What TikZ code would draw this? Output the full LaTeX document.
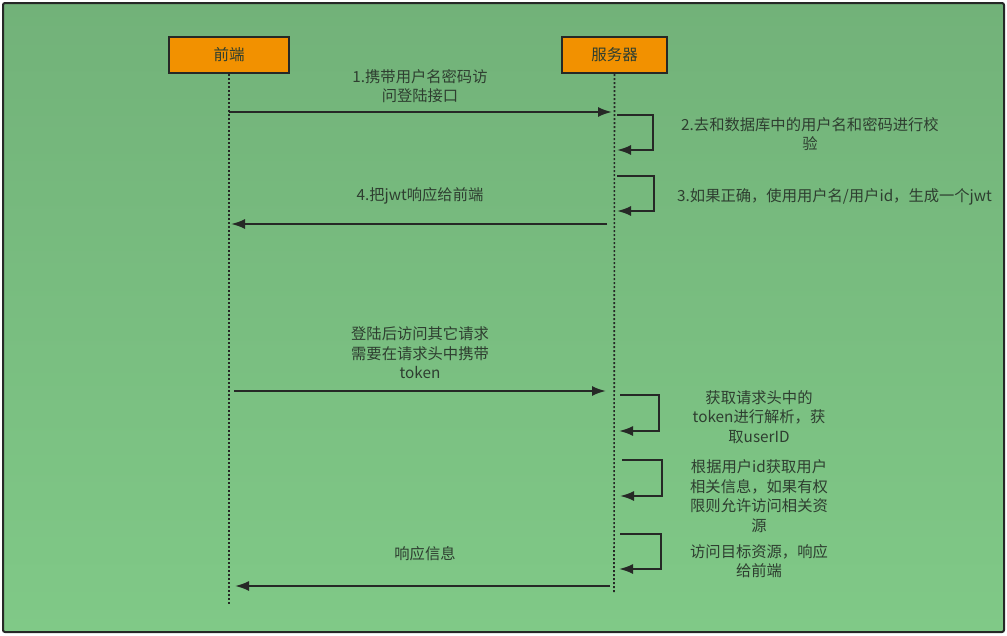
\documentclass[tikz,border=0pt]{standalone}
\usepackage{fontspec}
\newfontfamily\cjk{Noto Sans CJK SC}
\usetikzlibrary{arrows.meta}
\definecolor{bgtop}{RGB}{114,178,121}
\definecolor{bgbot}{RGB}{128,201,135}
\definecolor{orangebox}{RGB}{242,145,0}
\definecolor{ink}{RGB}{38,40,38}
\definecolor{txt}{RGB}{46,62,48}
\tikzset{
  actor/.style={draw=ink, line width=2pt, fill=orangebox, minimum width=120pt, minimum height=36pt, inner sep=0pt, font=\cjk\fontsize{15.5}{17}\selectfont, text=txt},
  lifeline/.style={draw=ink, line width=1.6pt, dash pattern=on 2pt off 2pt},
  msg/.style={draw=ink, line width=2pt, -{Latex[length=14pt,width=10pt]}},
  lbl/.style={font=\cjk\fontsize{15.3}{19.5}\selectfont, text=txt, align=center, inner sep=0pt},
  lbll/.style={font=\cjk\fontsize{15.3}{19.5}\selectfont, text=txt, align=left, inner sep=0pt, anchor=west},
}
\begin{document}
\begin{tikzpicture}[x=1pt,y=-1pt]
\useasboundingbox (0,0) rectangle (1007,635);
\shade[top color=bgtop, bottom color=bgbot, draw=ink, line width=2pt, rounded corners=2pt] (3,3) rectangle (1004,632);

\node[actor] (fe) at (229,55) {前端};
\node[actor, minimum width=105pt] (sv) at (614.5,55) {服务器};

\coordinate (feend) at (229,604);
\coordinate (svend) at (614,592);
\draw[lifeline] (fe.south) -- (feend);
\draw[lifeline] (sv.south) -- (svend);

% message 1
\coordinate (m1a) at (229,112);
\coordinate (m1b) at (612,112);
\draw[msg] (m1a) -- (m1b);
\node[lbl] (t1) at (420,86) {1.携带用户名密码访\\问登陆接口};

% self loop 2
\coordinate (l2a) at (617,115);
\coordinate (l2b) at (617,150);
\draw[msg] (l2a) -- ++(36,0) |- (l2b);
\node[lbl] (t2) at (810,134) {2.去和数据库中的用户名和密码进行校\\验};

% self loop 3
\coordinate (l3a) at (617,176);
\coordinate (l3b) at (617,211);
\draw[msg] (l3a) -- ++(37,0) |- (l3b);
\node[lbll] (t3) at (677,197) {3.如果正确，使用用户名/用户id，生成一个jwt};

% message 4
\coordinate (m4a) at (607,224);
\coordinate (m4b) at (231,224);
\draw[msg] (m4a) -- (m4b);
\node[lbl] (t4) at (420,196) {4.把jwt响应给前端};

% message 5
\coordinate (m5a) at (234,391);
\coordinate (m5b) at (606,391);
\draw[msg] (m5a) -- (m5b);
\node[lbl] (t5) at (420,353) {登陆后访问其它请求\\需要在请求头中携带\\token};

% self loop 6
\coordinate (l6a) at (620,395);
\coordinate (l6b) at (619,431);
\draw[msg] (l6a) -- ++(39,0) |- (l6b);
\node[lbl] (t6) at (759,417) {获取请求头中的\\token进行解析，获\\取userID};

% self loop 7
\coordinate (l7a) at (622,460);
\coordinate (l7b) at (620,496);
\draw[msg] (l7a) -- ++(40,0) |- (l7b);
\node[lbl] (t7) at (759,496) {根据用户id获取用户\\相关信息，如果有权\\限则允许访问相关资\\源};

% self loop 8
\coordinate (l8a) at (620,534);
\coordinate (l8b) at (619,569);
\draw[msg] (l8a) -- ++(41,0) |- (l8b);
\node[lbl] (t8) at (759,561) {访问目标资源，响应\\给前端};

% message 9
\coordinate (m9a) at (610,586);
\coordinate (m9b) at (235,586);
\draw[msg] (m9a) -- (m9b);
\node[lbl] (t9) at (425,554) {响应信息};
\end{tikzpicture}
\end{document}
